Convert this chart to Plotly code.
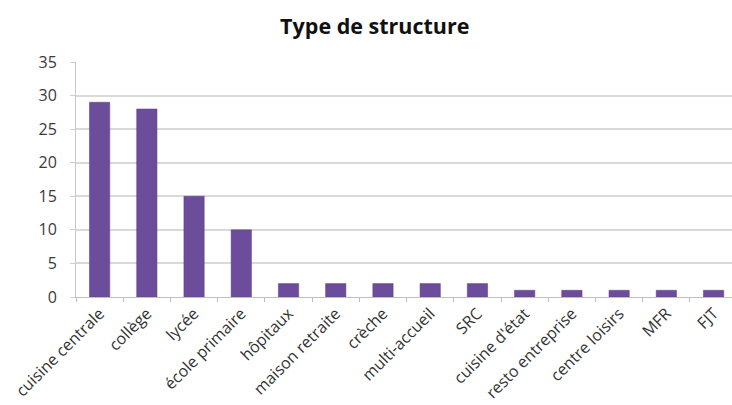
import plotly.graph_objects as go

# Number of structures by type
categories = [
    "cuisine centrale", "collège", "lycée", "école primaire", "hôpitaux",
    "maison retraite", "crèche", "multi-accueil", "SRC", "cuisine d'état",
    "resto entreprise", "centre loisirs", "MFR", "FJT",
]
counts = [29, 28, 15, 10, 2, 2, 2, 2, 2, 1, 1, 1, 1, 1]
y_ticks = [0, 5, 10, 15, 20, 25, 30, 35]

fig = go.Figure(
    go.Bar(
        x=categories,
        y=counts,
        width=0.43,
        marker=dict(color="#6c4d9c", line=dict(color="#5a3d86", width=0.5)),
        hoverinfo="x+y",
    )
)

fig.update_layout(
    width=732,
    height=405,
    margin=dict(l=76, r=0, t=62, b=108),
    paper_bgcolor="white",
    plot_bgcolor="white",
    showlegend=False,
    title=dict(
        text="<b>Type de structure</b>",
        x=0.512,
        xanchor="center",
        y=0.935,
        yanchor="middle",
        font=dict(family="Open Sans", size=21.5, color="#111111"),
    ),
    xaxis=dict(
        type="category",
        range=[-0.5, 13.39],
        tickangle=-45,
        tickson="boundaries",
        ticks="outside",
        ticklen=4,
        tickcolor="#bfbfbf",
        showline=True,
        linecolor="#bfbfbf",
        linewidth=1,
        showgrid=False,
        tickfont=dict(family="Open Sans", size=16, color="#333333"),
    ),
    yaxis=dict(
        range=[0, 35],
        tickvals=y_ticks,
        ticks="outside",
        ticklen=5,
        tickcolor="#d0d0d0",
        ticklabelstandoff=10,
        showline=True,
        linecolor="#c8c8c8",
        linewidth=1,
        showgrid=True,
        gridcolor="#d9d9d9",
        gridwidth=1.5,
        zeroline=False,
        tickfont=dict(family="Open Sans", size=16, color="#3a3a3a"),
    ),
)

fig.write_html("out.html")
